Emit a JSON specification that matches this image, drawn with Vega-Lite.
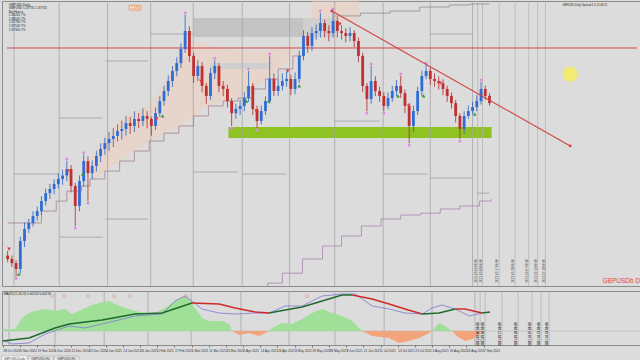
{
"$schema":"https://vega.github.io/schema/vega-lite/v6.json",
"background":"#dcdcdc",
"padding":0,
"spacing":3,
"config":{"view":{"stroke":"#8c8c8c","strokeWidth":1},"text":{"font":"Liberation Sans"},"concat":{"spacing":3}},
"resolve":{"scale":{"x":"independent","y":"independent","color":"independent"}},
"datasets":{
"candles":[{"b":0,"o":1.2965,"h":1.2990,"l":1.2930,"c":1.2947},{"b":2,"o":1.2947,"h":1.2965,"l":1.2905,"c":1.2925},{"b":4,"o":1.2925,"h":1.2940,"l":1.2855,"c":1.2894},{"b":6,"o":1.2894,"h":1.3065,"l":1.2870,"c":1.3042},{"b":8,"o":1.3042,"h":1.3140,"l":1.3010,"c":1.3106},{"b":10,"o":1.3106,"h":1.3160,"l":1.3085,"c":1.3138},{"b":12,"o":1.3138,"h":1.3200,"l":1.3120,"c":1.3175},{"b":14,"o":1.3175,"h":1.3225,"l":1.3150,"c":1.3201},{"b":16,"o":1.3201,"h":1.3280,"l":1.3180,"c":1.3254},{"b":18,"o":1.3254,"h":1.3320,"l":1.3230,"c":1.3296},{"b":20,"o":1.3296,"h":1.3345,"l":1.3265,"c":1.3318},{"b":22,"o":1.3318,"h":1.3370,"l":1.3290,"c":1.3344},{"b":24,"o":1.3344,"h":1.3400,"l":1.3320,"c":1.3371},{"b":26,"o":1.3371,"h":1.3420,"l":1.3340,"c":1.3389},{"b":28,"o":1.3389,"h":1.3466,"l":1.3360,"c":1.3424},{"b":30,"o":1.3424,"h":1.3445,"l":1.3300,"c":1.3334},{"b":32,"o":1.3334,"h":1.3350,"l":1.3122,"c":1.3228},{"b":34,"o":1.3228,"h":1.3390,"l":1.3200,"c":1.3360},{"b":36,"o":1.3360,"h":1.3500,"l":1.3330,"c":1.3466},{"b":38,"o":1.3466,"h":1.3490,"l":1.3254,"c":1.3402},{"b":40,"o":1.3402,"h":1.3470,"l":1.3370,"c":1.3440},{"b":42,"o":1.3440,"h":1.3520,"l":1.3410,"c":1.3493},{"b":44,"o":1.3493,"h":1.3560,"l":1.3460,"c":1.3530},{"b":46,"o":1.3530,"h":1.3590,"l":1.3500,"c":1.3561},{"b":48,"o":1.3561,"h":1.3620,"l":1.3520,"c":1.3583},{"b":50,"o":1.3583,"h":1.3640,"l":1.3540,"c":1.3599},{"b":52,"o":1.3599,"h":1.3660,"l":1.3570,"c":1.3625},{"b":54,"o":1.3625,"h":1.3680,"l":1.3580,"c":1.3636},{"b":56,"o":1.3636,"h":1.3705,"l":1.3600,"c":1.3667},{"b":58,"o":1.3667,"h":1.3700,"l":1.3610,"c":1.3652},{"b":60,"o":1.3652,"h":1.3730,"l":1.3620,"c":1.3689},{"b":62,"o":1.3689,"h":1.3720,"l":1.3640,"c":1.3678},{"b":64,"o":1.3678,"h":1.3745,"l":1.3650,"c":1.3705},{"b":66,"o":1.3705,"h":1.3730,"l":1.3640,"c":1.3689},{"b":68,"o":1.3689,"h":1.3700,"l":1.3600,"c":1.3652},{"b":70,"o":1.3652,"h":1.3750,"l":1.3630,"c":1.3720},{"b":72,"o":1.3720,"h":1.3810,"l":1.3700,"c":1.3784},{"b":74,"o":1.3784,"h":1.3865,"l":1.3760,"c":1.3837},{"b":76,"o":1.3837,"h":1.3920,"l":1.3810,"c":1.3890},{"b":78,"o":1.3890,"h":1.3970,"l":1.3860,"c":1.3943},{"b":80,"o":1.3943,"h":1.4015,"l":1.3915,"c":1.3985},{"b":82,"o":1.3985,"h":1.4090,"l":1.3960,"c":1.4060},{"b":84,"o":1.4060,"h":1.4240,"l":1.4040,"c":1.4155},{"b":86,"o":1.4155,"h":1.4180,"l":1.3990,"c":1.4023},{"b":88,"o":1.4023,"h":1.4040,"l":1.3880,"c":1.3917},{"b":90,"o":1.3917,"h":1.4000,"l":1.3890,"c":1.3970},{"b":92,"o":1.3970,"h":1.3990,"l":1.3830,"c":1.3864},{"b":94,"o":1.3864,"h":1.3880,"l":1.3770,"c":1.3811},{"b":96,"o":1.3811,"h":1.3960,"l":1.3790,"c":1.3932},{"b":98,"o":1.3932,"h":1.4000,"l":1.3900,"c":1.3970},{"b":100,"o":1.3970,"h":1.3985,"l":1.3830,"c":1.3864},{"b":102,"o":1.3864,"h":1.3890,"l":1.3810,"c":1.3848},{"b":104,"o":1.3848,"h":1.3870,"l":1.3750,"c":1.3784},{"b":106,"o":1.3784,"h":1.3800,"l":1.3652,"c":1.3720},{"b":108,"o":1.3720,"h":1.3770,"l":1.3690,"c":1.3742},{"b":110,"o":1.3742,"h":1.3790,"l":1.3710,"c":1.3758},{"b":112,"o":1.3758,"h":1.3830,"l":1.3730,"c":1.3800},{"b":114,"o":1.3800,"h":1.3943,"l":1.3780,"c":1.3864},{"b":116,"o":1.3864,"h":1.3880,"l":1.3710,"c":1.3742},{"b":118,"o":1.3742,"h":1.3760,"l":1.3641,"c":1.3678},{"b":120,"o":1.3678,"h":1.3760,"l":1.3660,"c":1.3731},{"b":122,"o":1.3731,"h":1.3810,"l":1.3710,"c":1.3784},{"b":124,"o":1.3784,"h":1.4023,"l":1.3770,"c":1.3901},{"b":126,"o":1.3901,"h":1.3930,"l":1.3810,"c":1.3837},{"b":128,"o":1.3837,"h":1.3900,"l":1.3810,"c":1.3864},{"b":130,"o":1.3864,"h":1.3930,"l":1.3840,"c":1.3890},{"b":132,"o":1.3890,"h":1.3940,"l":1.3860,"c":1.3901},{"b":134,"o":1.3901,"h":1.3925,"l":1.3815,"c":1.3848},{"b":136,"o":1.3848,"h":1.3935,"l":1.3820,"c":1.3901},{"b":138,"o":1.3901,"h":1.4050,"l":1.3880,"c":1.4023},{"b":140,"o":1.4023,"h":1.4160,"l":1.4000,"c":1.4129},{"b":142,"o":1.4129,"h":1.4150,"l":1.4040,"c":1.4076},{"b":144,"o":1.4076,"h":1.4175,"l":1.4050,"c":1.4144},{"b":146,"o":1.4144,"h":1.4190,"l":1.4110,"c":1.4155},{"b":148,"o":1.4155,"h":1.4250,"l":1.4120,"c":1.4197},{"b":150,"o":1.4197,"h":1.4215,"l":1.4120,"c":1.4155},{"b":152,"o":1.4155,"h":1.4185,"l":1.4100,"c":1.4144},{"b":154,"o":1.4144,"h":1.4261,"l":1.4120,"c":1.4208},{"b":156,"o":1.4208,"h":1.4230,"l":1.4120,"c":1.4155},{"b":158,"o":1.4155,"h":1.4185,"l":1.4110,"c":1.4144},{"b":160,"o":1.4144,"h":1.4170,"l":1.4095,"c":1.4129},{"b":162,"o":1.4129,"h":1.4175,"l":1.4100,"c":1.4144},{"b":164,"o":1.4144,"h":1.4160,"l":1.4070,"c":1.4102},{"b":166,"o":1.4102,"h":1.4120,"l":1.3990,"c":1.4023},{"b":168,"o":1.4023,"h":1.4040,"l":1.3830,"c":1.3864},{"b":170,"o":1.3864,"h":1.3880,"l":1.3731,"c":1.3795},{"b":172,"o":1.3795,"h":1.3970,"l":1.3770,"c":1.3890},{"b":174,"o":1.3890,"h":1.3915,"l":1.3810,"c":1.3837},{"b":176,"o":1.3837,"h":1.3860,"l":1.3780,"c":1.3811},{"b":178,"o":1.3811,"h":1.3830,"l":1.3731,"c":1.3758},{"b":180,"o":1.3758,"h":1.3830,"l":1.3740,"c":1.3800},{"b":182,"o":1.3800,"h":1.3865,"l":1.3780,"c":1.3837},{"b":184,"o":1.3837,"h":1.3895,"l":1.3810,"c":1.3864},{"b":186,"o":1.3864,"h":1.3917,"l":1.3800,"c":1.3826},{"b":188,"o":1.3826,"h":1.3845,"l":1.3720,"c":1.3758},{"b":190,"o":1.3758,"h":1.3775,"l":1.3561,"c":1.3652},{"b":192,"o":1.3652,"h":1.3760,"l":1.3620,"c":1.3731},{"b":194,"o":1.3731,"h":1.3860,"l":1.3710,"c":1.3837},{"b":196,"o":1.3837,"h":1.3945,"l":1.3810,"c":1.3917},{"b":198,"o":1.3917,"h":1.3975,"l":1.3900,"c":1.3943},{"b":200,"o":1.3943,"h":1.3960,"l":1.3870,"c":1.3901},{"b":202,"o":1.3901,"h":1.3930,"l":1.3860,"c":1.3890},{"b":204,"o":1.3890,"h":1.3915,"l":1.3845,"c":1.3879},{"b":206,"o":1.3879,"h":1.3900,"l":1.3815,"c":1.3848},{"b":208,"o":1.3848,"h":1.3865,"l":1.3780,"c":1.3811},{"b":210,"o":1.3811,"h":1.3830,"l":1.3745,"c":1.3773},{"b":212,"o":1.3773,"h":1.3790,"l":1.3670,"c":1.3705},{"b":214,"o":1.3705,"h":1.3720,"l":1.3583,"c":1.3636},{"b":216,"o":1.3636,"h":1.3730,"l":1.3610,"c":1.3705},{"b":218,"o":1.3705,"h":1.3760,"l":1.3690,"c":1.3731},{"b":220,"o":1.3731,"h":1.3780,"l":1.3715,"c":1.3752},{"b":222,"o":1.3752,"h":1.3815,"l":1.3730,"c":1.3784},{"b":224,"o":1.3784,"h":1.3885,"l":1.3765,"c":1.3848},{"b":226,"o":1.3848,"h":1.3865,"l":1.3790,"c":1.3811},{"b":228,"o":1.3811,"h":1.3825,"l":1.3760,"c":1.3773}],
"cloud":[{"g":"A","b":40,"lo":1.3371,"hi":1.3500},{"g":"A","b":46,"lo":1.3413,"hi":1.3590},{"g":"A","b":53,"lo":1.3466,"hi":1.3680},{"g":"A","b":60,"lo":1.3519,"hi":1.3730},{"g":"A","b":67,"lo":1.3572,"hi":1.3760},{"g":"A","b":74,"lo":1.3614,"hi":1.3870},{"g":"A","b":81,"lo":1.3652,"hi":1.4020},{"g":"A","b":88,"lo":1.3705,"hi":1.4100},{"g":"A","b":95,"lo":1.3758,"hi":1.4080},{"g":"A","b":102,"lo":1.3784,"hi":1.4060},{"g":"A","b":109,"lo":1.3800,"hi":1.4050},{"g":"A","b":116,"lo":1.3848,"hi":1.4050},{"g":"A","b":122,"lo":1.3901,"hi":1.4049},{"g":"A","b":128,"lo":1.3954,"hi":1.4060},{"g":"A","b":135,"lo":1.4023,"hi":1.4080},{"g":"B","b":144,"lo":1.4208,"hi":1.4314},{"g":"B","b":166,"lo":1.4208,"hi":1.4314}],
"boxes":[{"b0":88,"b1":140,"p0":1.4123,"p1":1.4224,"k":"d"},{"b0":140,"b1":155,"p0":1.4123,"p1":1.4224,"k":"l"},{"b0":96,"b1":124,"p0":1.3954,"p1":1.3985,"k":"l"}],
"zone":[{"b0":104.5,"b1":229,"p0":1.3588,"p1":1.3646}],
"months":[{"b":3},{"b":24.4},{"b":47.3},{"b":67.7},{"b":87.8},{"b":111},{"b":133.4},{"b":154.8},{"b":177.7},{"b":200},{"b":220}],
"fut":[{"b":222.4,"t":"2021.09.06 00:00"},{"b":224.7,"t":"2021.09.08 00:00"},{"b":232.6,"t":"2021.09.17 00:00"},{"b":240.1,"t":"2021.09.28 00:00"},{"b":246.6,"t":"2021.10.07 00:00"},{"b":250.8,"t":"2021.10.13 00:00"},{"b":254.5,"t":"2021.10.18 00:00"}],
"piv":[{"b0":3,"b1":24.4,"p":1.3397},{"b0":24.4,"b1":45,"p":1.3694},{"b0":24.4,"b1":45,"p":1.3063},{"b0":46.3,"b1":66.3,"p":1.3996},{"b0":46.3,"b1":66.3,"p":1.3159},{"b0":67.7,"b1":87.8,"p":1.4139},{"b0":87.8,"b1":109,"p":1.3408},{"b0":111,"b1":132,"p":1.3397},{"b0":154.8,"b1":176,"p":1.3678},{"b0":177.7,"b1":198.6,"p":1.3397},{"b0":200,"b1":220,"p":1.3376},{"b0":200,"b1":220,"p":1.4139},{"b0":222,"b1":228,"p":1.3296}],
"hline":[{"b":-0.3,"p":1.4065},{"b":297.8,"p":1.4065}],
"stair":[{"b":0,"p":1.3138},{"b":16,"p":1.3201},{"b":23,"p":1.3254},{"b":28,"p":1.3307},{"b":35,"p":1.3334},{"b":39,"p":1.3371},{"b":46,"p":1.3413},{"b":53,"p":1.3466},{"b":60,"p":1.3519},{"b":67,"p":1.3572},{"b":74,"p":1.3614},{"b":81,"p":1.3652},{"b":88,"p":1.3705},{"b":95,"p":1.3758},{"b":102,"p":1.3784},{"b":109,"p":1.3800},{"b":116,"p":1.3848},{"b":122,"p":1.3901},{"b":128,"p":1.3954},{"b":135,"p":1.4023},{"b":140,"p":1.4049}],
"ladT":[{"b":155,"p":1.4235},{"b":167,"p":1.4250},{"b":181,"p":1.4261},{"b":195,"p":1.4282},{"b":209,"p":1.4293},{"b":219,"p":1.4298},{"b":228,"p":1.4298}],
"ladB":[{"b":118.5,"p":1.2793},{"b":123,"p":1.2819},{"b":130,"p":1.2872},{"b":139.5,"p":1.2947},{"b":149,"p":1.3016},{"b":158,"p":1.3069},{"b":167.4,"p":1.3122},{"b":176.7,"p":1.3159},{"b":186,"p":1.3180},{"b":195.4,"p":1.3190},{"b":204.7,"p":1.3212},{"b":214,"p":1.3228},{"b":223.3,"p":1.3254},{"b":228.9,"p":1.3265}],
"fib":[{"p":1.4152,"t":"261.8 (1.4152)"},{"p":1.4048,"t":"200.0 (1.4048)"},{"p":1.3983,"t":"161.8 (1.3983)"},{"p":1.3925,"t":"127.2 (1.3925)"},{"p":1.3879,"t":"100.0 (1.3879)"},{"p":1.3843,"t":"78.6 (1.3843)"},{"p":1.3814,"t":"61.8 (1.3814)"},{"p":1.3795,"t":"50.0 (1.3795)"},{"p":1.3775,"t":"38.2 (1.3775)"},{"p":1.3750,"t":"23.6 (1.3750)"},{"p":1.3710,"t":"0.0 (1.3710)"}],
"frh":[{"b":28,"p":1.3466},{"b":36,"p":1.3500},{"b":84,"p":1.4240},{"b":98,"p":1.4000},{"b":114,"p":1.3943},{"b":124,"p":1.4023},{"b":148,"p":1.4250},{"b":154,"p":1.4261},{"b":172,"p":1.3970},{"b":186,"p":1.3917},{"b":198,"p":1.3975},{"b":224,"p":1.3885}],
"frl":[{"b":4,"p":1.2855},{"b":32,"p":1.3122},{"b":38,"p":1.3254},{"b":106,"p":1.3652},{"b":118,"p":1.3641},{"b":170,"p":1.3731},{"b":178,"p":1.3731},{"b":190,"p":1.3561},{"b":214,"p":1.3583}],
"sig":[{"b":5.3,"p":1.2867,"t":"buy"},{"b":35.6,"p":1.3397,"t":"buy"},{"b":73.3,"p":1.3705,"t":"buy"},{"b":113,"p":1.3784,"t":"buy"},{"b":123.6,"p":1.3784,"t":"buy"},{"b":138,"p":1.3864,"t":"buy"},{"b":184.7,"p":1.3811,"t":"buy"},{"b":196.8,"p":1.3811,"t":"buy"},{"b":221,"p":1.3715,"t":"buy"},{"b":0.7,"p":1.3000,"t":"sell"},{"b":28.6,"p":1.3413,"t":"sell"},{"b":70.5,"p":1.3689,"t":"sell"},{"b":91.5,"p":1.3890,"t":"sell"},{"b":117.6,"p":1.3731,"t":"sell"},{"b":132.5,"p":1.3943,"t":"sell"},{"b":157.2,"p":1.4192,"t":"sell"},{"b":189.8,"p":1.3758,"t":"sell"},{"b":204.7,"p":1.3879,"t":"sell"}],
"trend":[{"b":153.4,"p":1.4261},{"b":266.2,"p":1.3546}],
"info":[{"b":0.5,"p":1.4296,"t":"GBPUSD,Daily"},{"b":0.5,"p":1.4277,"t":"GBPUSD 1.37731 1.37741"},{"b":0.5,"p":1.4258,"t":"Bar    Hours"},{"b":0.5,"p":1.4239,"t":"1.38261   7%"},{"b":0.5,"p":1.4220,"t":"1.38020   7%"},{"b":0.5,"p":1.4201,"t":"1.37780   7%"},{"b":0.5,"p":1.4182,"t":"1.37540   7%"},{"b":0.5,"p":1.4163,"t":"1.37300   7%"}],
"obox":[{"b0":57.5,"b1":63,"p0":1.4266,"p1":1.4291}],
"otext":[{"b":60.25,"p":1.42785,"t":"-1.42%"}],
"brand":[{"b":281.5,"p":1.2812,"t":"GBPUSDb D"}],
"tr":[{"b":262.5,"p":1.4294,"t":"GBPUSD Daily  Spread 1.0  12:46:21"}],
"cursor":[{"b":266.2,"p":1.3927}],
"zl":[{"b":-0.3,"v":0},{"b":297.8,"v":0}],
"hist":[{"b":0,"v":2},{"b":5.8,"v":2},{"b":9,"v":13},{"b":12.3,"v":18},{"b":15.1,"v":20},{"b":19.8,"v":22},{"b":24.4,"v":20},{"b":29.1,"v":22},{"b":32.3,"v":17},{"b":35.6,"v":20},{"b":40.3,"v":25},{"b":44.9,"v":28},{"b":49.6,"v":30},{"b":52.4,"v":27},{"b":57,"v":23},{"b":61.7,"v":20},{"b":66.3,"v":18},{"b":71,"v":18},{"b":75.7,"v":23},{"b":80.3,"v":30},{"b":84.5,"v":35},{"b":86.8,"v":32},{"b":89.6,"v":23},{"b":92.9,"v":13},{"b":96.2,"v":10},{"b":102.2,"v":10},{"b":105.5,"v":7},{"b":106.9,"v":0},{"b":110.1,"v":-4},{"b":114.8,"v":-2},{"b":119.4,"v":-5},{"b":124.1,"v":0},{"b":125.5,"v":3},{"b":130.2,"v":8},{"b":134.8,"v":7},{"b":139.5,"v":12},{"b":144.1,"v":18},{"b":148.8,"v":22},{"b":153.4,"v":18},{"b":158.1,"v":15},{"b":162.8,"v":10},{"b":167.4,"v":0},{"b":172.1,"v":-5},{"b":176,"v":-6},{"b":180,"v":-7},{"b":184.6,"v":-12},{"b":189.3,"v":-10},{"b":194,"v":-7},{"b":198.6,"v":-2},{"b":200,"v":0},{"b":203.3,"v":8},{"b":206,"v":5},{"b":208,"v":2},{"b":209.3,"v":0},{"b":212,"v":-6},{"b":215.4,"v":-10},{"b":219,"v":-8},{"b":222,"v":-3},{"b":223.3,"v":0}],
"macd":[{"b":0,"v":-9},{"b":4.4,"v":-13},{"b":12.3,"v":-12},{"b":19.8,"v":-3},{"b":31,"v":5},{"b":38.4,"v":3},{"b":46.3,"v":7},{"b":61.7,"v":15},{"b":74.3,"v":17},{"b":80.3,"v":30},{"b":85,"v":35},{"b":92.9,"v":22},{"b":100.8,"v":18},{"b":108.3,"v":17},{"b":117.6,"v":18},{"b":124.1,"v":18},{"b":131.6,"v":25},{"b":139.5,"v":25},{"b":148.8,"v":35},{"b":158.1,"v":37},{"b":164.2,"v":37},{"b":172.1,"v":25},{"b":180,"v":22},{"b":187.4,"v":18},{"b":195.4,"v":17},{"b":200,"v":23},{"b":204.7,"v":26},{"b":210.8,"v":22},{"b":217.3,"v":15},{"b":223.3,"v":18}],
"sigl":[{"g":1,"s":"up","b":0,"v":-10},{"g":1,"s":"up","b":12.3,"v":-7},{"g":1,"s":"up","b":24.4,"v":3},{"g":1,"s":"up","b":31,"v":7},{"g":1,"s":"up","b":46.3,"v":11},{"g":1,"s":"up","b":61.7,"v":17},{"g":1,"s":"up","b":74.3,"v":18},{"g":1,"s":"up","b":88.2,"v":28},{"g":2,"s":"dn","b":88.2,"v":28},{"g":2,"s":"dn","b":100.8,"v":27},{"g":2,"s":"dn","b":108.3,"v":23},{"g":2,"s":"dn","b":117.6,"v":19},{"g":2,"s":"dn","b":124.1,"v":18},{"g":3,"s":"up","b":124.1,"v":18},{"g":3,"s":"up","b":131.6,"v":21},{"g":3,"s":"up","b":139.5,"v":24},{"g":3,"s":"up","b":148.8,"v":30},{"g":3,"s":"up","b":158.1,"v":36},{"g":3,"s":"up","b":162.8,"v":36},{"g":4,"s":"dn","b":162.8,"v":36},{"g":4,"s":"dn","b":172.1,"v":32},{"g":4,"s":"dn","b":180,"v":27},{"g":4,"s":"dn","b":187.4,"v":22},{"g":4,"s":"dn","b":195.4,"v":17},{"g":5,"s":"up","b":195.4,"v":17},{"g":5,"s":"up","b":203.3,"v":18},{"g":5,"s":"up","b":210.8,"v":22},{"g":6,"s":"dn","b":210.8,"v":22},{"g":6,"s":"dn","b":215.4,"v":22},{"g":6,"s":"dn","b":223.3,"v":18},{"g":7,"s":"up","b":223.3,"v":18},{"g":7,"s":"up","b":227,"v":19}],
"icirc":[{"b":23,"v":35},{"b":29,"v":35},{"b":40,"v":35},{"b":52,"v":35},{"b":59.4,"v":35},{"b":85.4,"v":35},{"b":141.8,"v":35}],
"ilbl":[{"b":0.5,"v":39.5,"t":"MACD(12,26,9) 0.00124 0.00218"}],
"tabs":[{"tab":"GBPUSD,Daily","a":"y"},{"tab":"GBPUSD,H4","a":"n"},{"tab":"GBPUSD,H1","a":"n"}]
},
"vconcat":[
{"width":640,"height":285,
"encoding":{"x":{"field":"b","type":"quantitative","scale":{"domain":[-0.3,297.8],"nice":false,"zero":false},"axis":null}},
"layer":[
{"data":{"name":"cloud"},"mark":{"type":"area","color":"#f3c9b3","opacity":0.45},"encoding":{"y":{"field":"lo","type":"quantitative","scale":{"domain":[1.2804,1.4314],"nice":false,"zero":false},"axis":null},"y2":{"field":"hi"},"detail":{"field":"g"}}},
{"data":{"name":"boxes"},"mark":{"type":"rect"},"encoding":{"x":{"field":"b0","type":"quantitative","scale":{"domain":[-0.3,297.8],"nice":false,"zero":false},"axis":null},"x2":{"field":"b1"},"y":{"field":"p0","type":"quantitative","scale":{"domain":[1.2804,1.4314],"nice":false,"zero":false},"axis":null},"y2":{"field":"p1"},"color":{"condition":{"test":"datum.k=='d'","value":"#c3c3c3"},"value":"#cfcfcf"}}},
{"data":{"name":"zone"},"mark":{"type":"rect","color":"#8fc322"},"encoding":{"x":{"field":"b0","type":"quantitative","scale":{"domain":[-0.3,297.8],"nice":false,"zero":false},"axis":null},"x2":{"field":"b1"},"y":{"field":"p0","type":"quantitative","scale":{"domain":[1.2804,1.4314],"nice":false,"zero":false},"axis":null},"y2":{"field":"p1"}}},
{"data":{"name":"months"},"mark":{"type":"rule","color":"#a6a6a6","strokeWidth":0.8},"encoding":{}},
{"data":{"name":"fut"},"mark":{"type":"rule","color":"#b0b0b0","strokeWidth":0.7},"encoding":{}},
{"data":{"name":"piv"},"mark":{"type":"rule","color":"#9c9cab","strokeWidth":0.8},"encoding":{"x":{"field":"b0","type":"quantitative","scale":{"domain":[-0.3,297.8],"nice":false,"zero":false},"axis":null},"x2":{"field":"b1"},"y":{"field":"p","type":"quantitative","scale":{"domain":[1.2804,1.4314],"nice":false,"zero":false},"axis":null}}},
{"data":{"name":"hline"},"mark":{"type":"line","color":"#d24848","strokeWidth":1},"encoding":{"y":{"field":"p","type":"quantitative","scale":{"domain":[1.2804,1.4314],"nice":false,"zero":false},"axis":null}}},
{"data":{"name":"stair"},"mark":{"type":"line","interpolate":"step-after","color":"#a3808e","strokeWidth":0.8},"encoding":{"y":{"field":"p","type":"quantitative","scale":{"domain":[1.2804,1.4314],"nice":false,"zero":false},"axis":null}}},
{"data":{"name":"ladT"},"mark":{"type":"line","interpolate":"step-after","color":"#8e8e8e","strokeWidth":0.8},"encoding":{"y":{"field":"p","type":"quantitative","scale":{"domain":[1.2804,1.4314],"nice":false,"zero":false},"axis":null}}},
{"data":{"name":"ladB"},"mark":{"type":"line","interpolate":"step-after","color":"#a884b0","strokeWidth":0.8,"clip":true},"encoding":{"y":{"field":"p","type":"quantitative","scale":{"domain":[1.2804,1.4314],"nice":false,"zero":false},"axis":null}}},
{"data":{"name":"fib"},"mark":{"type":"rule","color":"#a6a6a6","strokeWidth":0.6},"encoding":{"x":{"datum":221,"type":"quantitative","scale":{"domain":[-0.3,297.8],"nice":false,"zero":false},"axis":null},"x2":{"datum":231},"y":{"field":"p","type":"quantitative","scale":{"domain":[1.2804,1.4314],"nice":false,"zero":false},"axis":null}}},
{"data":{"name":"fib"},"mark":{"type":"text","align":"left","baseline":"middle","fontSize":3.3,"color":"#3c8a8a"},"encoding":{"x":{"datum":231.5,"type":"quantitative","scale":{"domain":[-0.3,297.8],"nice":false,"zero":false},"axis":null},"y":{"field":"p","type":"quantitative","scale":{"domain":[1.2804,1.4314],"nice":false,"zero":false},"axis":null},"text":{"field":"t"}}},
{"data":{"name":"candles"},"mark":{"type":"rule","strokeWidth":0.8},"encoding":{"y":{"field":"l","type":"quantitative","scale":{"domain":[1.2804,1.4314],"nice":false,"zero":false},"axis":null},"y2":{"field":"h"},"color":{"condition":{"test":"datum.c>=datum.o","value":"#2a62c0"},"value":"#b02a2a"}}},
{"data":{"name":"candles"},"mark":{"type":"bar","size":2.8,"orient":"vertical"},"encoding":{"y":{"field":"o","type":"quantitative","scale":{"domain":[1.2804,1.4314],"nice":false,"zero":false},"axis":null},"y2":{"field":"c"},"color":{"condition":{"test":"datum.c>=datum.o","value":"#2f6cd4"},"value":"#c03030"}}},
{"data":{"name":"frh"},"mark":{"type":"point","filled":true,"size":9,"color":"#d98ee0","yOffset":-2,"opacity":1},"encoding":{"y":{"field":"p","type":"quantitative","scale":{"domain":[1.2804,1.4314],"nice":false,"zero":false},"axis":null}}},
{"data":{"name":"frl"},"mark":{"type":"point","filled":true,"size":9,"color":"#d98ee0","yOffset":2,"opacity":1},"encoding":{"y":{"field":"p","type":"quantitative","scale":{"domain":[1.2804,1.4314],"nice":false,"zero":false},"axis":null}}},
{"data":{"name":"sig"},"transform":[{"filter":"datum.t=='buy'"}],"mark":{"type":"point","shape":"triangle-up","filled":true,"size":14,"color":"#2f9a3a","opacity":1},"encoding":{"y":{"field":"p","type":"quantitative","scale":{"domain":[1.2804,1.4314],"nice":false,"zero":false},"axis":null}}},
{"data":{"name":"sig"},"transform":[{"filter":"datum.t=='sell'"}],"mark":{"type":"point","shape":"triangle-down","filled":true,"size":14,"color":"#e23a3a","opacity":1},"encoding":{"y":{"field":"p","type":"quantitative","scale":{"domain":[1.2804,1.4314],"nice":false,"zero":false},"axis":null}}},
{"data":{"name":"trend"},"mark":{"type":"line","color":"#d04444","strokeWidth":1.1},"encoding":{"y":{"field":"p","type":"quantitative","scale":{"domain":[1.2804,1.4314],"nice":false,"zero":false},"axis":null}}},
{"data":{"name":"trend"},"mark":{"type":"point","filled":true,"size":8,"color":"#d04444","opacity":1},"encoding":{"y":{"field":"p","type":"quantitative","scale":{"domain":[1.2804,1.4314],"nice":false,"zero":false},"axis":null}}},
{"data":{"name":"info"},"mark":{"type":"text","align":"left","baseline":"middle","fontSize":3.2,"color":"#1e1e1e"},"encoding":{"y":{"field":"p","type":"quantitative","scale":{"domain":[1.2804,1.4314],"nice":false,"zero":false},"axis":null},"text":{"field":"t"}}},
{"data":{"name":"obox"},"mark":{"type":"rect","fill":"#f7e4d2","stroke":"#e0782c","strokeWidth":0.6},"encoding":{"x":{"field":"b0","type":"quantitative","scale":{"domain":[-0.3,297.8],"nice":false,"zero":false},"axis":null},"x2":{"field":"b1"},"y":{"field":"p0","type":"quantitative","scale":{"domain":[1.2804,1.4314],"nice":false,"zero":false},"axis":null},"y2":{"field":"p1"}}},
{"data":{"name":"otext"},"mark":{"type":"text","align":"center","baseline":"middle","fontSize":3,"color":"#d0601c"},"encoding":{"y":{"field":"p","type":"quantitative","scale":{"domain":[1.2804,1.4314],"nice":false,"zero":false},"axis":null},"text":{"field":"t"}}},
{"data":{"name":"brand"},"mark":{"type":"text","align":"left","baseline":"bottom","fontSize":6.5,"color":"#e04848"},"encoding":{"y":{"field":"p","type":"quantitative","scale":{"domain":[1.2804,1.4314],"nice":false,"zero":false},"axis":null},"text":{"field":"t"}}},
{"data":{"name":"tr"},"mark":{"type":"text","align":"left","baseline":"middle","fontSize":2.8,"color":"#2a2a2a"},"encoding":{"y":{"field":"p","type":"quantitative","scale":{"domain":[1.2804,1.4314],"nice":false,"zero":false},"axis":null},"text":{"field":"t"}}},
{"data":{"name":"fut"},"mark":{"type":"text","angle":270,"align":"center","baseline":"bottom","fontSize":3,"color":"#444"},"encoding":{"y":{"datum":1.2885,"type":"quantitative","scale":{"domain":[1.2804,1.4314],"nice":false,"zero":false},"axis":null},"text":{"field":"t"}}},
{"data":{"name":"cursor"},"mark":{"type":"point","filled":true,"size":230,"color":"#f3ec66","opacity":0.9},"encoding":{"y":{"field":"p","type":"quantitative","scale":{"domain":[1.2804,1.4314],"nice":false,"zero":false},"axis":null}}}
]},
{"width":640,"height":54,
"encoding":{"x":{"field":"b","type":"quantitative","scale":{"domain":[-0.3,297.8],"nice":false,"zero":false},"axis":{"values":[0,8,16,24,32,40,48,56,64,72,80,88,96,104,112,120,128,136,144,152,160,168,176,184,192,200,208,216,224],"labelExpr":"['28 Oct 2020','9 Nov 2020','19 Nov 2020','1 Dec 2020','11 Dec 2020','23 Dec 2020','4 Jan 2021','14 Jan 2021','26 Jan 2021','5 Feb 2021','17 Feb 2021','1 Mar 2021','11 Mar 2021','23 Mar 2021','2 Apr 2021','14 Apr 2021','26 Apr 2021','6 May 2021','18 May 2021','28 May 2021','9 Jun 2021','21 Jun 2021','1 Jul 2021','13 Jul 2021','23 Jul 2021','4 Aug 2021','16 Aug 2021','26 Aug 2021','7 Sep 2021'][round(datum.value/8)]","title":null,"grid":false,"domain":false,"tickSize":2,"tickColor":"#777777","labelFontSize":3.2,"labelColor":"#333333","labelAlign":"left","labelPadding":1,"labelOverlap":false,"labelFlush":false,"labelBound":false,"labelFont":"Liberation Sans"}}},
"layer":[
{"data":{"name":"months"},"mark":{"type":"rule","color":"#a6a6a6","strokeWidth":0.8},"encoding":{}},
{"data":{"name":"fut"},"mark":{"type":"rule","color":"#b0b0b0","strokeWidth":0.7},"encoding":{}},
{"data":{"name":"zl"},"mark":{"type":"line","color":"#b8b8b8","strokeWidth":0.6},"encoding":{"y":{"field":"v","type":"quantitative","scale":{"domain":[-14,40],"nice":false,"zero":false},"axis":null}}},
{"data":{"name":"hist"},"transform":[{"filter":"datum.v>=0"}],"mark":{"type":"area","color":"#9fdf98"},"encoding":{"y":{"field":"v","type":"quantitative","scale":{"domain":[-14,40],"nice":false,"zero":false},"axis":null},"y2":{"datum":0}}},
{"data":{"name":"hist"},"transform":[{"filter":"datum.v<=0"}],"mark":{"type":"area","color":"#f4a47c"},"encoding":{"y":{"field":"v","type":"quantitative","scale":{"domain":[-14,40],"nice":false,"zero":false},"axis":null},"y2":{"datum":0}}},
{"data":{"name":"macd"},"mark":{"type":"line","color":"#7e78d6","strokeWidth":0.8,"clip":true},"encoding":{"y":{"field":"v","type":"quantitative","scale":{"domain":[-14,40],"nice":false,"zero":false},"axis":null}}},
{"data":{"name":"sigl"},"mark":{"type":"line","strokeWidth":1.6,"clip":true},"encoding":{"y":{"field":"v","type":"quantitative","scale":{"domain":[-14,40],"nice":false,"zero":false},"axis":null},"color":{"field":"s","type":"nominal","scale":{"domain":["up","dn"],"range":["#1e6b2b","#d02a2a"]},"legend":null},"detail":{"field":"g"}}},
{"data":{"name":"icirc"},"mark":{"type":"point","size":10,"color":"#e8806a","strokeWidth":0.7},"encoding":{"y":{"field":"v","type":"quantitative","scale":{"domain":[-14,40],"nice":false,"zero":false},"axis":null}}},
{"data":{"name":"fut"},"mark":{"type":"text","angle":270,"align":"center","baseline":"bottom","fontSize":3,"fontWeight":"bold","color":"#333"},"encoding":{"y":{"datum":-3,"type":"quantitative","scale":{"domain":[-14,40],"nice":false,"zero":false},"axis":null},"text":{"field":"t"}}},
{"data":{"name":"ilbl"},"mark":{"type":"text","align":"left","baseline":"top","fontSize":3.2,"color":"#222"},"encoding":{"y":{"field":"v","type":"quantitative","scale":{"domain":[-14,40],"nice":false,"zero":false},"axis":null},"text":{"field":"t"}}}
]},
{"width":{"step":26},"height":6,"data":{"name":"tabs"},"view":{"stroke":null},
"layer":[
{"mark":{"type":"bar","stroke":"#a0a0a0","strokeWidth":0.5},"encoding":{"x":{"field":"tab","type":"nominal","sort":null,"axis":null,"scale":{"paddingInner":0.04,"paddingOuter":0}},"color":{"condition":{"test":"datum.a=='y'","value":"#ffffff"},"value":"#e4e4e4"}}},
{"mark":{"type":"text","fontSize":3.2,"color":"#333"},"encoding":{"x":{"field":"tab","type":"nominal","sort":null,"axis":null,"scale":{"paddingInner":0.04,"paddingOuter":0}},"text":{"field":"tab"}}}
]}
]
}
